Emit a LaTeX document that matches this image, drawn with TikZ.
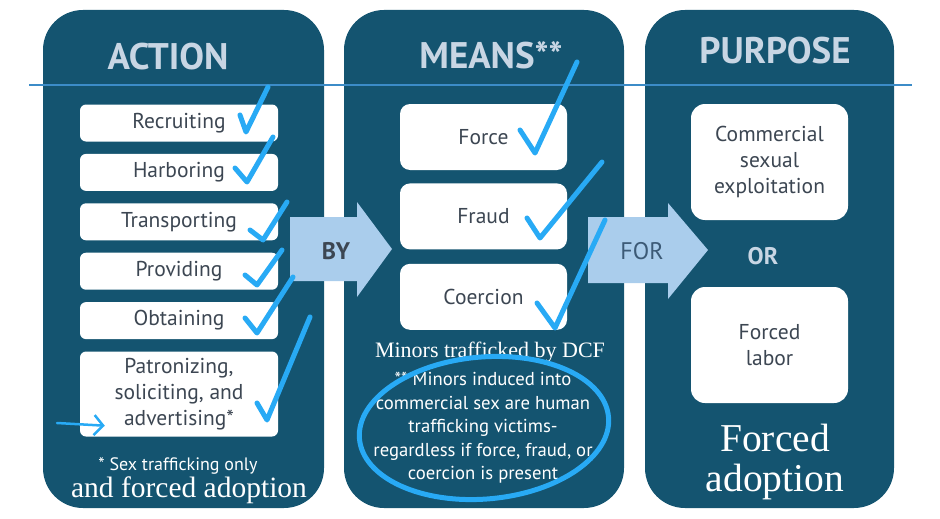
\documentclass[tikz,border=0pt]{standalone}
\usepackage{fontspec}
\setmainfont{Liberation Serif}
\setsansfont{PT Sans}
\usetikzlibrary{arrows.meta, positioning, shapes.geometric}

\definecolor{panelblue}{RGB}{20,84,112}
\definecolor{titlegray}{RGB}{200,214,228}
\definecolor{boxtext}{RGB}{60,70,82}
\definecolor{arrowfill}{RGB}{170,205,236}
\definecolor{fortext}{RGB}{60,90,118}
\definecolor{penblue}{RGB}{40,170,245}
\definecolor{ruleblue}{RGB}{60,140,200}

\begin{document}
\begin{tikzpicture}[x=1pt, y=-1pt, node distance=12pt,
    panel/.style={rectangle, rounded corners=40pt, fill=panelblue, minimum height=498pt},
    heading/.style={text=titlegray, font=\sffamily\bfseries\fontsize{37}{40}\selectfont},
    actbox/.style={rectangle, rounded corners=6pt, fill=white, minimum width=198pt, minimum height=37pt,
        text=boxtext, align=center, font=\sffamily\fontsize{21.5}{26}\selectfont},
    meanbox/.style={actbox, rounded corners=10pt, minimum width=167pt, minimum height=66pt},
    purpbox/.style={actbox, rounded corners=14pt, minimum width=157pt, minimum height=116pt},
    bigarrow/.style={fill=arrowfill},
    note/.style={text=white, align=center, inner sep=1pt, font=\sffamily\fontsize{18.7}{23.5}\selectfont},
    scrawl/.style={text=white, align=center, inner sep=1pt, font=\rmfamily\fontsize{#1}{#1}\selectfont},
    tick/.style={draw=penblue, line width=5pt, line cap=round, line join=round}]

    \useasboundingbox (0,0) rectangle (940,519);

    % three columns
    \node[panel, minimum width=281pt] (action) at (183.5,259) {};
    \node[panel, minimum width=280pt] (means) at (484,259) {};
    \node[panel, minimum width=249pt] (purpose) at (769.5,259) {};

    \node[heading] (acttitle) at (168,57) {ACTION};
    \node[heading] (meantitle) at (491,55) {MEANS**};
    \node[heading] (purptitle) at (775,51) {PURPOSE};

    \coordinate (ruleL) at (29,85);
    \coordinate (ruleR) at (912,85);
    \draw[ruleblue, line width=1.8pt] (ruleL) -- (ruleR);

    % action
    \node[actbox] (recruit) at (179,123) {Recruiting};
    \node[actbox, below=of recruit] (harbor) {Harboring};
    \node[actbox, below=of harbor] (transport) {Transporting};
    \node[actbox, below=of transport] (provide) {Providing};
    \node[actbox, below=of provide] (obtain) {Obtaining};
    \node[actbox, below=of obtain, minimum height=85pt] (patron) {Patronizing,\\ soliciting, and\\ advertising*};
    \node[note, font=\sffamily\fontsize{18}{20}\selectfont] (sexonly) at (178,466) {* Sex trafficking only};
    \node[scrawl=29.5] (andforced) at (189,490) {and forced adoption};

    % means
    \node[meanbox] (force) at (483.5,137) {Force};
    \node[meanbox, below=13pt of force] (fraud) {Fraud};
    \node[meanbox, below=14pt of fraud] (coerce) {Coercion};
    \node[scrawl=22] (dcf) at (490,352) {Minors trafficked by DCF};
    \node[note] (minors) at (483,428) {** Minors induced into\\ commercial sex are human\\ trafficking victims-\\ regardless if force, fraud, or\\ coercion is present};

    % purpose
    \node[purpbox] (sexual) at (769.5,162) {Commercial\\ sexual\\ exploitation};
    \node[purpbox] (labor) at (769.5,345) {Forced\\ labor};
    \node[text=titlegray, font=\sffamily\bfseries\fontsize{24}{26}\selectfont] (or) at (763,256) {OR};
    \node[scrawl=39.5] (adopt) at (775,462) {Forced\\ adoption};

    % arrows between columns
    \fill[bigarrow] (290,217) -- (357,217) -- (357,202) -- (392,249) -- (357,297) -- (357,281) -- (290,281) -- cycle;
    \node[text=boxtext, font=\sffamily\bfseries\fontsize{24}{26}\selectfont] (by) at (336,251) {BY};
    \fill[bigarrow] (588,217) -- (668,217) -- (668,203) -- (708,250) -- (668,299) -- (668,283) -- (588,283) -- cycle;
    \node[text=fortext, font=\sffamily\fontsize{24}{26}\selectfont] (for) at (642,251) {FOR};

    % pen marks
    \draw[tick] (240,115) -- (246,132) -- (268,87);
    \draw[tick] (235,168) -- (247,182) -- (273,137);
    \draw[tick] (250,230) -- (263,240) -- (287,202);
    \draw[tick] (245,275) -- (257,285) -- (282,250);
    \draw[tick] (245,318) -- (257,333) -- (293,277);
    \draw[tick] (257,403) -- (267,420) -- (310,317);
    \draw[tick] (520,130) -- (535,153) -- (577,62);
    \draw[tick] (527,218) -- (540,238) -- (602,162);
    \draw[tick] (537,303) -- (555,328) -- (605,220);
    \node[ellipse, draw=penblue, line width=5pt, minimum width=250pt, minimum height=142pt, rotate=5] (ring) at (484,428) {};
    \coordinate (hint) at (57,423);
    \draw[penblue, line width=2.5pt, line cap=round, -{Straight Barb[length=9pt, width=20pt]}] (hint) -- ([shift={(25,-11)}]patron.south west);
\end{tikzpicture}
\end{document}
